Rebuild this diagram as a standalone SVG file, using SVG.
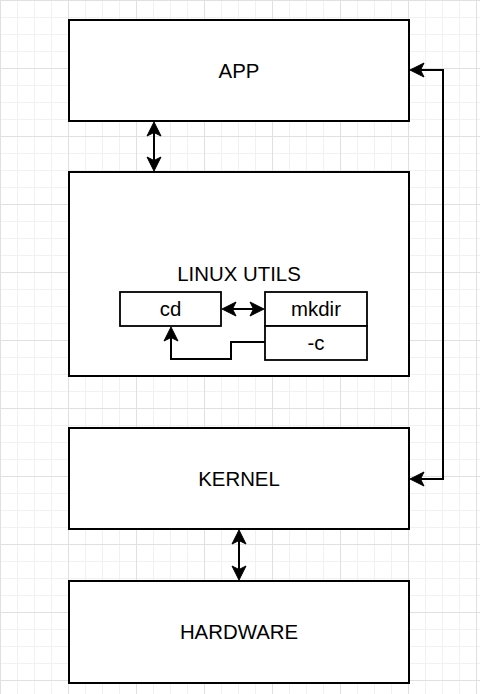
<svg xmlns="http://www.w3.org/2000/svg" width="480" height="694" viewBox="0 0 480 694">
  <style>
    .box { fill: #ffffff; stroke: #000000; stroke-width: 2; }
    .ibox { fill: #ffffff; stroke: #000000; stroke-width: 1.8; }
    .lbl { font-family: "Liberation Sans", Arial, Helvetica, sans-serif; font-size: 20.4px; fill: #000000; text-anchor: middle; }
    .edge { fill: none; stroke: #000000; stroke-width: 2; }
  </style>
  <defs>
    <pattern id="grid" width="68" height="68" patternUnits="userSpaceOnUse">
      <rect width="68" height="68" fill="#ffffff"/>
      <path d="M17.5 0V68M34.5 0V68M51.5 0V68M0 17.5H68M0 34.5H68M0 51.5H68" stroke="#f1f1f1" stroke-width="1" fill="none"/>
      <path d="M0.5 0V68M0 0.5H68" stroke="#e0e0e0" stroke-width="1" fill="none"/>
    </pattern>
    <marker id="arr" markerUnits="userSpaceOnUse" markerWidth="16" markerHeight="16" refX="3.5" refY="7" orient="auto-start-reverse" overflow="visible">
      <path d="M14,7 L0,0 L3.5,7 L0,14 Z" fill="#000000" stroke="#000000" stroke-width="1" stroke-linejoin="miter"/>
    </marker>
  </defs>
  <rect x="0" y="0" width="480" height="694" fill="url(#grid)"/>

  <g id="app">
    <rect class="box" x="69" y="20" width="340" height="101"/>
    <text class="lbl" x="239" y="78">APP</text>
  </g>
  <g id="linux-utils">
    <rect class="box" x="69" y="172" width="340" height="204"/>
    <text class="lbl" x="239" y="281">LINUX UTILS</text>
  </g>
  <g id="cd">
    <rect class="ibox" x="120" y="292" width="101" height="34"/>
    <text class="lbl" x="170.5" y="316">cd</text>
  </g>
  <g id="mkdir">
    <rect class="ibox" x="265" y="292" width="102" height="34"/>
    <text class="lbl" x="316" y="316">mkdir</text>
  </g>
  <g id="mkdir-c">
    <rect class="ibox" x="265" y="326" width="102" height="34"/>
    <text class="lbl" x="316" y="350">-c</text>
  </g>
  <g id="kernel">
    <rect class="box" x="69" y="428" width="340" height="101"/>
    <text class="lbl" x="239" y="486">KERNEL</text>
  </g>
  <g id="hardware">
    <rect class="box" x="69" y="581" width="340" height="102"/>
    <text class="lbl" x="239" y="639">HARDWARE</text>
  </g>

  <g id="connectors">
    <path class="edge" d="M154 132.5V160.5" marker-start="url(#arr)" marker-end="url(#arr)"/>
    <path class="edge" d="M239 540.5V569.5" marker-start="url(#arr)" marker-end="url(#arr)"/>
    <path class="edge" d="M232.5 309H253.5" marker-start="url(#arr)" marker-end="url(#arr)"/>
    <path class="edge" d="M265 342H231V359H171V337.5" marker-end="url(#arr)"/>
    <path class="edge" d="M420.5 70H443V479H420.5" marker-start="url(#arr)" marker-end="url(#arr)"/>
  </g>
</svg>
